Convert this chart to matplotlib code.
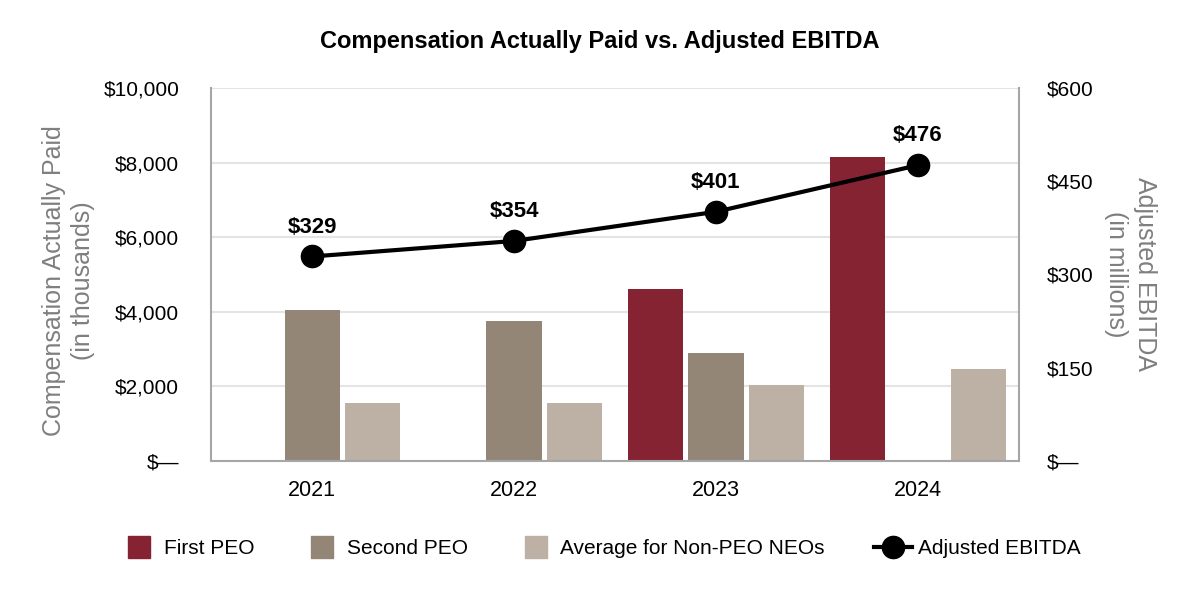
import numpy as np
import matplotlib.pyplot as plt
from matplotlib.lines import Line2D

plt.rcParams['font.family'] = ['Liberation Sans', 'DejaVu Sans']

# data
years = ['2021', '2022', '2023', '2024']
first_peo = [0, 0, 4600, 8150]          # $ thousands
second_peo = [4060, 3740, 2880, 0]
non_peo_avg = [1540, 1550, 2030, 2460]
ebitda = [329, 354, 401, 476]           # $ millions
ebitda_labels = ['$329', '$354', '$401', '$476']

left_ticks = [0, 2000, 4000, 6000, 8000, 10000]
left_ticklabels = ['$—', '$2,000', '$4,000', '$6,000', '$8,000', '$10,000']
right_ticks = [0, 150, 300, 450, 600]
right_ticklabels = ['$—', '$150', '$300', '$450', '$600']

C_FIRST = '#862332'
C_SECOND = '#948677'
C_NONPEO = '#bdb0a4'
GRID = '#e4e4e4'
SPINE = '#a6a6a6'
LABEL_GREY = '#7f7f7f'

fig = plt.figure(figsize=(12, 6), dpi=100)
ax = fig.add_axes([0.176, 0.232, 0.673, 0.621])

x = np.arange(len(years))
w = 0.273
off = 0.3
ax.bar(x - off, first_peo, w, color=C_FIRST, zorder=2)
ax.bar(x, second_peo, w, color=C_SECOND, zorder=2)
ax.bar(x + off, non_peo_avg, w, color=C_NONPEO, zorder=2)

ax.set_xlim(-0.5, 3.5)
ax.set_ylim(0, 10000)
ax.set_yticks(left_ticks)
ax.set_yticklabels(left_ticklabels)
ax.set_xticks(x)
ax.set_xticklabels(years)
ax.tick_params(axis='y', length=0, pad=23, labelsize=15)
ax.tick_params(axis='x', length=0, pad=14, labelsize=15.5)
ax.grid(axis='y', color=GRID, lw=1.5, zorder=0)
ax.set_axisbelow(True)
for s in ['left', 'right', 'bottom']:
    ax.spines[s].set_color(SPINE)
    ax.spines[s].set_linewidth(1.5)
ax.spines['top'].set_visible(False)

ax.set_ylabel('Compensation Actually Paid\n(in thousands)', fontsize=18,
              color=LABEL_GREY, linespacing=1.25)
ax.yaxis.set_label_coords(-0.1436, 0.483)

ax2 = ax.twinx()
ax2.set_ylim(0, 600)
ax2.set_yticks(right_ticks)
ax2.set_yticklabels(right_ticklabels)
ax2.tick_params(axis='y', length=0, pad=20, labelsize=15)
for s in ['left', 'right', 'top', 'bottom']:
    ax2.spines[s].set_visible(False)
ax2.plot(x, ebitda, color='black', lw=3, marker='o', markersize=16, zorder=5)
for xi, v, lab in zip(x, ebitda, ebitda_labels):
    ax2.annotate(lab, (xi, v), xytext=(0, 13.5), textcoords='offset points',
                 ha='center', va='bottom', fontsize=16, fontweight='bold')
ax2.set_ylabel('Adjusted EBITDA\n(in millions)', fontsize=18, color=LABEL_GREY,
               rotation=270, linespacing=1.25, va='bottom')
ax2.yaxis.set_label_coords(1.106, 0.5)

fig.suptitle('Compensation Actually Paid vs. Adjusted EBITDA', fontsize=17,
             fontweight='bold', y=0.95)

handles = [
    Line2D([], [], marker='s', color=C_FIRST, ls='none', markersize=16),
    Line2D([], [], marker='s', color=C_SECOND, ls='none', markersize=16),
    Line2D([], [], marker='s', color=C_NONPEO, ls='none', markersize=16),
    Line2D([], [], marker='o', color='black', lw=3, markersize=16),
]
labels = ['First PEO', 'Second PEO', 'Average for Non-PEO NEOs', 'Adjusted EBITDA']
fig.legend(handles, labels, loc='center', bbox_to_anchor=(0.5, 0.085), ncol=4,
           frameon=False, fontsize=15, handlelength=1.85, handletextpad=0.25,
           columnspacing=2.35)

fig.savefig('out.png', dpi=100)
